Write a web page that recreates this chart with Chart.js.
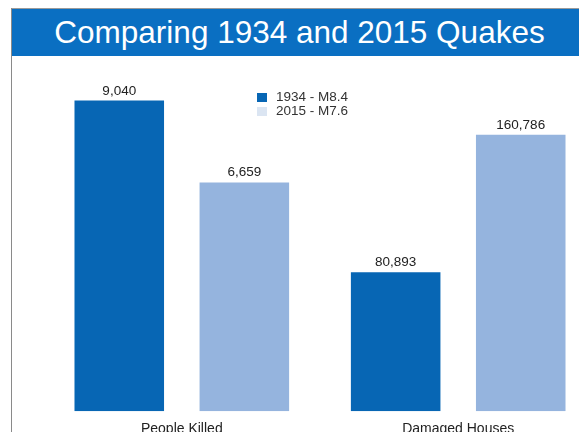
<!DOCTYPE html>
<html>
<head>
<meta charset="utf-8">
<script src="https://cdn.jsdelivr.net/npm/chart.js@4"></script>
<style>
  html, body { margin: 0; padding: 0; background: #fff; }
  body { width: 579px; height: 432px; overflow: hidden; position: relative; font-family: "Liberation Sans", Arial, sans-serif; }
  #topline { position: absolute; left: 11px; top: 8px; width: 568px; height: 1px; background: #9a9a9a; }
  #leftline { position: absolute; left: 11px; top: 8px; width: 1px; height: 424px; background: #8a8a8a; }
  #banner { position: absolute; left: 12px; top: 9px; width: 567px; height: 47px; background: #0a6fc2; color: #fff;
            font-size: 31.5px; line-height: 47px; text-align: center; white-space: nowrap; }
  #banner span { position: relative; left: 4px; }
  #wrap { position: absolute; left: 0; top: 56px; width: 620px; height: 400px; }
  #legend { position: absolute; left: 257px; top: 90px; font-size: 13.5px; color: #333; line-height: 14px; }
  .li { display: flex; align-items: center; height: 14px; }
  .sw { width: 10px; height: 9px; margin-right: 9px; }
</style>
</head>
<body>
<div id="topline"></div>
<div id="banner"><span>Comparing 1934 and 2015 Quakes</span></div>
<div id="leftline"></div>
<div id="wrap"><canvas id="c" width="620" height="400"></canvas></div>
<div id="legend"></div>
<script>
// ---- data ----
const categories = ['People Killed', 'Damaged Houses'];
const seriesLabels = ['1934 - M8.4', '2015 - M7.6'];
const values1934 = [9040, 80893];
const values2015 = [6659, 160786];
const seriesValues = [values1934, values2015];

// ---- styles ----
const barColors = ['#0766b4', '#95b4de'];
const legendColors = ['#0766b4', '#dbe5f2'];
const axisIds = ['yKilled', 'yHouses'];

// one dataset per category & series, so each category gets its own value scale
const datasets = [];
categories.forEach((cat, ci) => {
  seriesValues.forEach((vals, si) => {
    datasets.push({
      label: seriesLabels[si],
      data: categories.map((_, j) => (j === ci ? vals[j] : null)),
      backgroundColor: barColors[si],
      yAxisID: axisIds[ci],
      skipNull: true,
      barPercentage: 0.716,
      categoryPercentage: 0.905
    });
  });
});

const valueLabels = {
  id: 'valueLabels',
  afterDatasetsDraw(chart) {
    const ctx = chart.ctx;
    ctx.save();
    ctx.font = '13.5px "Liberation Sans", Arial, sans-serif';
    ctx.fillStyle = '#222';
    ctx.textAlign = 'center';
    ctx.textBaseline = 'bottom';
    chart.data.datasets.forEach((ds, di) => {
      const meta = chart.getDatasetMeta(di);
      meta.data.forEach((bar, i) => {
        const v = ds.data[i];
        if (v === null || v === undefined) return;
        ctx.fillText(v.toLocaleString('en-US'), bar.x, bar.y - 3);
      });
    });
    ctx.restore();
  }
};

new Chart(document.getElementById('c'), {
  type: 'bar',
  data: { labels: categories, datasets },
  options: {
    responsive: false,
    animation: false,
    devicePixelRatio: 1,
    layout: { padding: { left: 43.6, right: 23.6, top: 0, bottom: 8 } },
    plugins: { legend: { display: false }, tooltip: { enabled: false } },
    scales: {
      x: {
        grid: { display: false, drawTicks: false },
        border: { display: false },
        ticks: { color: '#222', padding: 10, font: { size: 14, family: '"Liberation Sans", Arial, sans-serif' } }
      },
      yKilled: { display: false, min: 0, max: 10338 },
      yHouses: { display: false, min: 0, max: 206642 }
    }
  },
  plugins: [valueLabels]
});

// legend built from the series labels
const lg = document.getElementById('legend');
seriesLabels.forEach((l, i) => {
  const row = document.createElement('div');
  row.className = 'li';
  row.innerHTML = '<div class="sw" style="background:' + legendColors[i] + '"></div><div>' + l + '</div>';
  lg.appendChild(row);
});
</script>
</body>
</html>
